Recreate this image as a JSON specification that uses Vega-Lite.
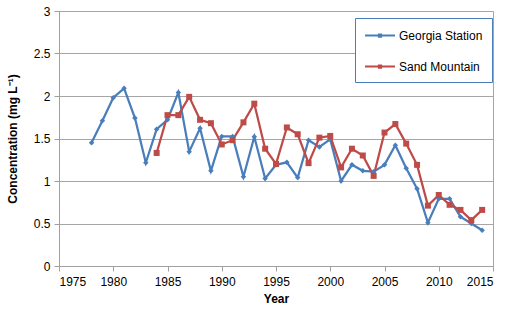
{
  "$schema": "https://vega.github.io/schema/vega-lite/v6.json",
  "width": 434,
  "height": 255,
  "autosize": {"type": "none"},
  "padding": {"left": 59, "top": 11, "right": 27, "bottom": 48},
  "background": "white",
  "config": {
    "font": "Liberation Sans",
    "view": {"stroke": "#A6A6A6", "strokeWidth": 1},
    "axis": {
      "labelFont": "Liberation Sans",
      "labelFontSize": 12,
      "labelColor": "#000000",
      "titleFont": "Liberation Sans",
      "titleFontSize": 12,
      "titleFontWeight": "bold",
      "titleColor": "#000000",
      "domainColor": "#A0A0A0",
      "tickColor": "#A0A0A0",
      "gridColor": "#A6A6A6",
      "tickSize": 5
    }
  },
  "data": {
    "values": [
      {"year": 1978, "site": "Georgia Station", "value": 1.45},
      {"year": 1979, "site": "Georgia Station", "value": 1.71},
      {"year": 1980, "site": "Georgia Station", "value": 1.98},
      {"year": 1981, "site": "Georgia Station", "value": 2.09},
      {"year": 1982, "site": "Georgia Station", "value": 1.74},
      {"year": 1983, "site": "Georgia Station", "value": 1.215},
      {"year": 1984, "site": "Georgia Station", "value": 1.61},
      {"year": 1985, "site": "Georgia Station", "value": 1.72},
      {"year": 1986, "site": "Georgia Station", "value": 2.04},
      {"year": 1987, "site": "Georgia Station", "value": 1.345},
      {"year": 1988, "site": "Georgia Station", "value": 1.62},
      {"year": 1989, "site": "Georgia Station", "value": 1.12},
      {"year": 1990, "site": "Georgia Station", "value": 1.525},
      {"year": 1991, "site": "Georgia Station", "value": 1.525},
      {"year": 1992, "site": "Georgia Station", "value": 1.05},
      {"year": 1993, "site": "Georgia Station", "value": 1.52},
      {"year": 1994, "site": "Georgia Station", "value": 1.03},
      {"year": 1995, "site": "Georgia Station", "value": 1.19},
      {"year": 1996, "site": "Georgia Station", "value": 1.22},
      {"year": 1997, "site": "Georgia Station", "value": 1.04},
      {"year": 1998, "site": "Georgia Station", "value": 1.48},
      {"year": 1999, "site": "Georgia Station", "value": 1.4},
      {"year": 2000, "site": "Georgia Station", "value": 1.49},
      {"year": 2001, "site": "Georgia Station", "value": 1.0},
      {"year": 2002, "site": "Georgia Station", "value": 1.19},
      {"year": 2003, "site": "Georgia Station", "value": 1.12},
      {"year": 2004, "site": "Georgia Station", "value": 1.11},
      {"year": 2005, "site": "Georgia Station", "value": 1.19},
      {"year": 2006, "site": "Georgia Station", "value": 1.42},
      {"year": 2007, "site": "Georgia Station", "value": 1.15},
      {"year": 2008, "site": "Georgia Station", "value": 0.91},
      {"year": 2009, "site": "Georgia Station", "value": 0.51},
      {"year": 2010, "site": "Georgia Station", "value": 0.79},
      {"year": 2011, "site": "Georgia Station", "value": 0.79},
      {"year": 2012, "site": "Georgia Station", "value": 0.58},
      {"year": 2013, "site": "Georgia Station", "value": 0.5},
      {"year": 2014, "site": "Georgia Station", "value": 0.42},
      {"year": 1984, "site": "Sand Mountain", "value": 1.33},
      {"year": 1985, "site": "Sand Mountain", "value": 1.775},
      {"year": 1986, "site": "Sand Mountain", "value": 1.775},
      {"year": 1987, "site": "Sand Mountain", "value": 1.99},
      {"year": 1988, "site": "Sand Mountain", "value": 1.72},
      {"year": 1989, "site": "Sand Mountain", "value": 1.68},
      {"year": 1990, "site": "Sand Mountain", "value": 1.43},
      {"year": 1991, "site": "Sand Mountain", "value": 1.48},
      {"year": 1992, "site": "Sand Mountain", "value": 1.69},
      {"year": 1993, "site": "Sand Mountain", "value": 1.91},
      {"year": 1994, "site": "Sand Mountain", "value": 1.38},
      {"year": 1995, "site": "Sand Mountain", "value": 1.2},
      {"year": 1996, "site": "Sand Mountain", "value": 1.63},
      {"year": 1997, "site": "Sand Mountain", "value": 1.55},
      {"year": 1998, "site": "Sand Mountain", "value": 1.21},
      {"year": 1999, "site": "Sand Mountain", "value": 1.51},
      {"year": 2000, "site": "Sand Mountain", "value": 1.53},
      {"year": 2001, "site": "Sand Mountain", "value": 1.16},
      {"year": 2002, "site": "Sand Mountain", "value": 1.38},
      {"year": 2003, "site": "Sand Mountain", "value": 1.3},
      {"year": 2004, "site": "Sand Mountain", "value": 1.06},
      {"year": 2005, "site": "Sand Mountain", "value": 1.57},
      {"year": 2006, "site": "Sand Mountain", "value": 1.67},
      {"year": 2007, "site": "Sand Mountain", "value": 1.44},
      {"year": 2008, "site": "Sand Mountain", "value": 1.19},
      {"year": 2009, "site": "Sand Mountain", "value": 0.71},
      {"year": 2010, "site": "Sand Mountain", "value": 0.835},
      {"year": 2011, "site": "Sand Mountain", "value": 0.72},
      {"year": 2012, "site": "Sand Mountain", "value": 0.66},
      {"year": 2013, "site": "Sand Mountain", "value": 0.54},
      {"year": 2014, "site": "Sand Mountain", "value": 0.66}
    ]
  },
  "encoding": {
    "x": {
      "field": "year",
      "type": "quantitative",
      "scale": {"domain": [1975, 2015], "nice": false, "zero": false},
      "axis": {
        "title": "Year",
        "values": [1975, 1980, 1985, 1990, 1995, 2000, 2005, 2010, 2015],
        "format": "d",
        "grid": false,
        "labelPadding": 5,
        "titlePadding": 6
      }
    },
    "y": {
      "field": "value",
      "type": "quantitative",
      "scale": {"domain": [0, 3], "nice": false},
      "axis": {
        "title": "Concentration (mg L⁻¹)",
        "values": [0, 0.5, 1, 1.5, 2, 2.5, 3],
        "format": "~f",
        "grid": true,
        "labelPadding": 4,
        "titlePadding": 14
      }
    }
  },
  "layer": [
    {
      "mark": {"type": "line", "strokeWidth": 2.25},
      "encoding": {
        "color": {
          "field": "site",
          "type": "nominal",
          "scale": {"domain": ["Georgia Station", "Sand Mountain"], "range": ["#4A7EBB", "#BE4B48"]},
          "legend": {
            "title": null,
            "orient": "none",
            "legendX": 296,
            "legendY": 7,
            "strokeColor": "#4A7EBB",
            "fillColor": "#FFFFFF",
            "padding": 9,
            "labelFont": "Liberation Sans",
            "labelFontSize": 12,
            "labelColor": "#000000",
            "rowPadding": 16,
            "symbolType": "M-1,0H3M0.85,-0.15H1.15V0.15H0.85Z",
            "symbolSize": 225,
            "symbolStrokeWidth": 2,
            "labelOffset": 18
          }
        }
      }
    },
    {
      "transform": [{"filter": "datum.site === 'Georgia Station'"}],
      "mark": {"type": "point", "shape": "diamond", "filled": true, "opacity": 1, "color": "#4A7EBB", "size": 30}
    },
    {
      "transform": [{"filter": "datum.site === 'Sand Mountain'"}],
      "mark": {"type": "point", "shape": "square", "filled": true, "opacity": 1, "color": "#BE4B48", "size": 36}
    }
  ]
}
